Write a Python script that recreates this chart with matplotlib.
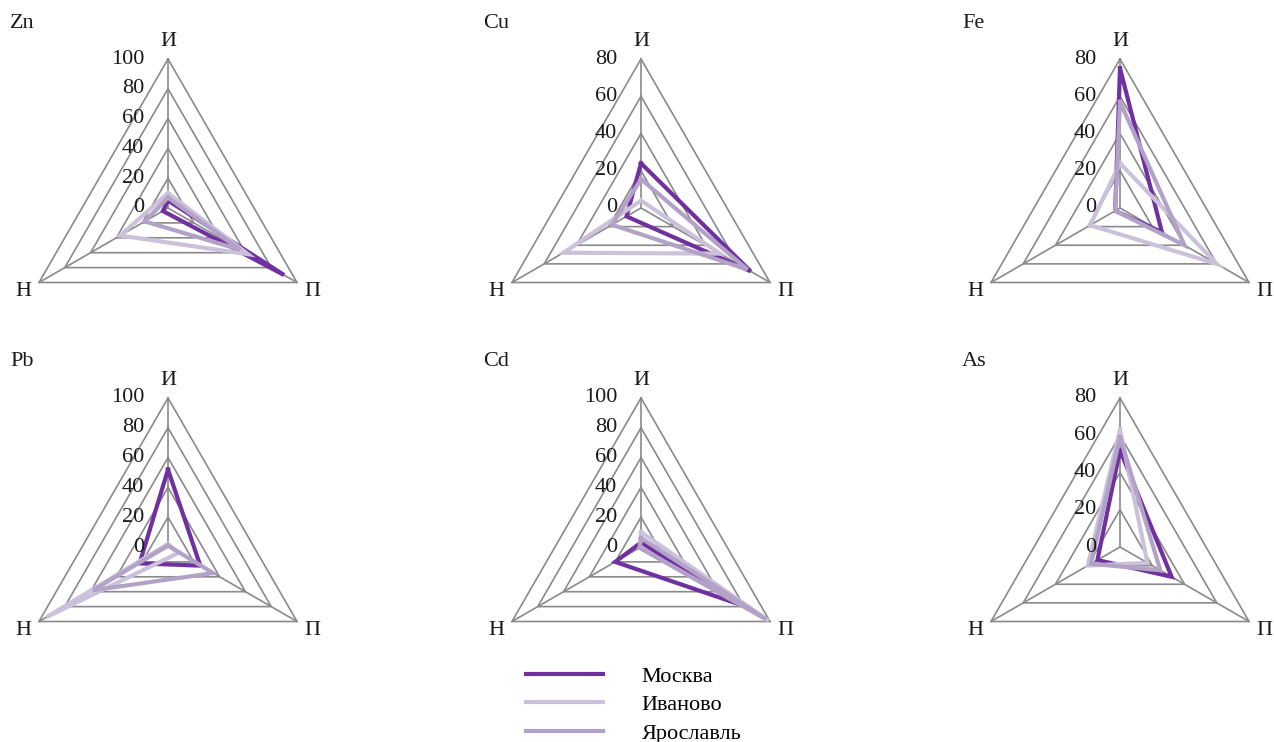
import numpy as np
import matplotlib
matplotlib.use("Agg")
import matplotlib.pyplot as plt
from matplotlib.transforms import offset_copy

# ---------------- data ----------------
elements = ["Zn", "Cu", "Fe", "Pb", "Cd", "As"]
categories = ["И", "П", "Н"]
scale_max = [100, 80, 80, 100, 100, 80]
series_names = ["Москва", "Иваново", "Ярославль"]

# values per element, order of categories: И, П, Н
moskva = [[5, 90, 4], [24, 68, 9], [75, 26, 3], [52, 25, 22], [3, 78, 20], [52, 32, 14]]
ivanovo = [[10, 62, 37], [4, 49, 48], [24, 60, 18.5], [2, 8, 94], [10, 99, 1], [63, 17, 20]]
yaroslavl = [[7, 56, 18], [15.5, 66, 18], [57, 40, 3], [1, 35, 58], [6, 97, 1], [59, 25, 18]]

# ---------------- style ----------------
colors = ["#7030A0", "#CCC1DA", "#B3A2C7"]
grid_color = "#8A8A8A"
FONT = "Liberation Serif"
FS = 16

W, H = 1274, 742
fig = plt.figure(figsize=(W / 100, H / 100), dpi=100)

col_x = [168, 641, 1120]
row_y = [208, 547]
R = 149

theta = np.deg2rad([0, 120, 240])
theta_closed = np.append(theta, theta[0])

all_series = [moskva, ivanovo, yaroslavl]
legend_handles = []

for i, el in enumerate(elements):
    cx = col_x[i % 3]
    cy = row_y[i // 3]
    ax = fig.add_axes([(cx - R) / W, (H - cy - R) / H, 2 * R / W, 2 * R / H],
                      projection="polar")
    ax.set_theta_offset(np.pi / 2)
    ax.set_theta_direction(-1)
    vmax = scale_max[i]
    ax.set_ylim(0, vmax)
    ax.grid(False)
    ax.set_xticks([])
    ax.set_yticks([])
    ax.spines["polar"].set_visible(False)
    ax.patch.set_alpha(0)

    levels = np.arange(20, vmax + 1, 20)
    for lv in levels:
        ax.plot(theta_closed, [lv] * 4, color=grid_color, lw=1.2,
                clip_on=False, zorder=1)
    for th in theta:
        ax.plot([th, th], [0, vmax], color=grid_color, lw=1.2,
                clip_on=False, zorder=1)

    lab_tr = offset_copy(ax.transData, fig=fig, x=-24, y=0, units="dots")
    for lv in np.arange(0, vmax + 1, 20):
        ax.text(0, lv, f"{lv:d}", transform=lab_tr, ha="right", va="center",
                fontsize=FS, family=FONT, color="#1a1a1a", zorder=10)

    for th, cat in zip(theta, categories):
        ax.text(th, vmax * 1.12, cat, ha="center", va="center",
                fontsize=FS, family=FONT, color="#1a1a1a")

    for s, (vals, name) in enumerate(zip(all_series, series_names)):
        v = vals[i]
        ln, = ax.plot(theta_closed, v + [v[0]], color=colors[s], lw=3.0,
                      solid_joinstyle="miter", clip_on=False, zorder=3 + s,
                      label=name)
        if i == 0:
            legend_handles.append(ln)

    tx = cx - 158
    fig.text(tx / W, 1 - (cy - 185) / H, el, ha="left", va="center",
             fontsize=FS, family=FONT, color="#1a1a1a")

leg = fig.legend(handles=legend_handles, labels=series_names,
                 loc="upper left", bbox_to_anchor=(526 / W, 1 - 666 / H),
                 frameon=False, prop={"family": FONT, "size": FS},
                 handlelength=3.45, handletextpad=1.75, labelspacing=0.36,
                 borderpad=0, borderaxespad=0)

fig.savefig("out.png", dpi=100)
